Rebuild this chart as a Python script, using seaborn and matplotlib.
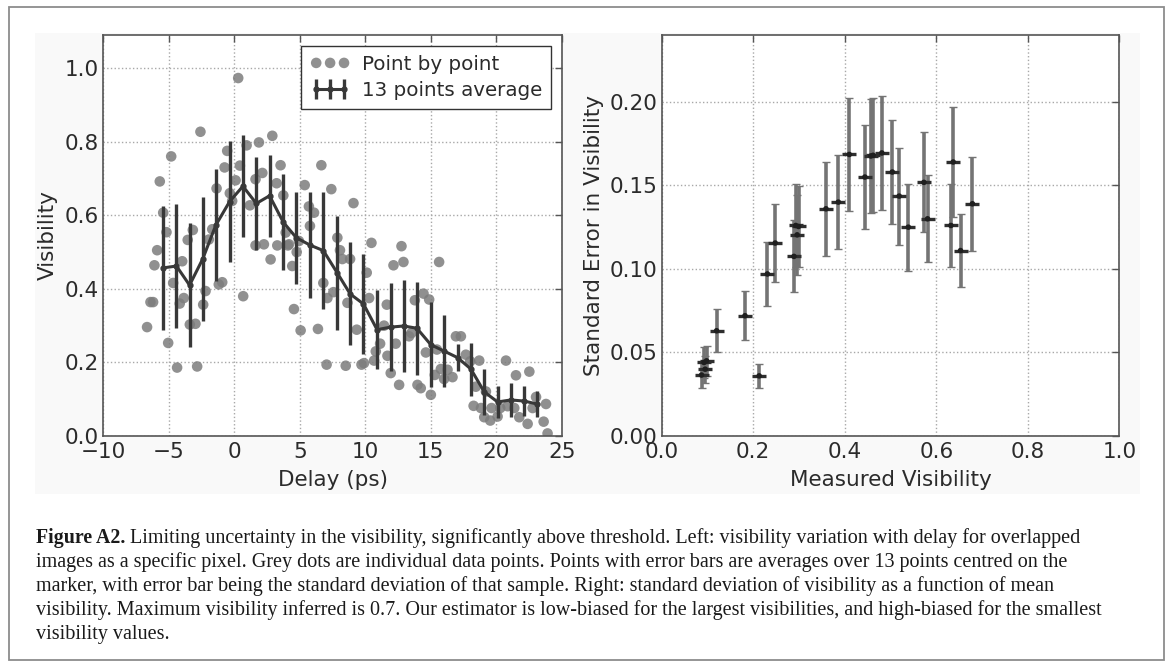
import matplotlib
matplotlib.use("Agg")
import matplotlib.pyplot as plt
from matplotlib.patches import Rectangle
import seaborn as sns

# Individual visibility samples (delay in ps, visibility)
dot_delay = [-6.64, -6.38, -6.18, -6.08, -5.87, -5.67, -5.41, -5.16, -5.03, -4.80,
             -4.65, -4.35, -4.15, -3.96, -3.84, -3.54, -3.38, -3.15, -2.95, -2.82,
             -2.57, -2.36, -2.18, -1.93, -1.67, -1.34, -1.17, -0.91, -0.73, -0.53,
             -0.33, -0.15, 0.11, 0.31, 0.44, 0.69, 0.95, 1.20, 1.63, 1.63,
             1.89, 2.15, 2.27, 2.78, 2.91, 3.24, 3.29, 3.54, 3.75, 3.93,
             4.10, 4.18, 4.43, 4.56, 4.77, 4.94, 5.07, 5.38, 5.70, 5.78,
             6.09, 6.39, 6.65, 6.80, 7.05, 7.11, 7.41, 7.57, 7.87, 8.07,
             8.25, 8.51, 8.64, 8.84, 9.10, 9.35, 9.71, 9.90, 10.11, 10.29,
             10.47, 10.67, 10.80, 11.13, 11.43, 11.64, 11.69, 11.94, 12.15, 12.32,
             12.58, 12.76, 12.91, 13.34, 13.52, 13.78, 13.98, 14.23, 14.44, 14.62,
             14.87, 15.00, 15.30, 15.46, 15.63, 15.76, 16.01, 16.27, 16.65, 16.91,
             17.29, 17.67, 18.00, 18.26, 18.43, 18.69, 18.82, 19.07, 19.20, 19.53,
             19.63, 20.09, 20.29, 20.73, 20.85, 21.36, 21.49, 21.74, 22.38, 22.51,
             22.76, 23.02, 23.60, 23.78, 23.90]
dot_vis = [0.296, 0.364, 0.364, 0.464, 0.505, 0.692, 0.607, 0.554, 0.253, 0.760,
           0.416, 0.186, 0.360, 0.475, 0.375, 0.533, 0.303, 0.560, 0.305, 0.189,
           0.827, 0.357, 0.394, 0.534, 0.562, 0.673, 0.412, 0.418, 0.730, 0.775,
           0.660, 0.639, 0.695, 0.973, 0.735, 0.380, 0.790, 0.627, 0.698, 0.518,
           0.798, 0.715, 0.521, 0.480, 0.816, 0.687, 0.518, 0.736, 0.654, 0.553,
           0.518, 0.521, 0.462, 0.345, 0.500, 0.530, 0.287, 0.682, 0.624, 0.571,
           0.607, 0.291, 0.736, 0.416, 0.194, 0.375, 0.671, 0.391, 0.539, 0.505,
           0.481, 0.191, 0.362, 0.481, 0.633, 0.289, 0.194, 0.198, 0.444, 0.375,
           0.525, 0.205, 0.230, 0.251, 0.300, 0.357, 0.218, 0.171, 0.464, 0.251,
           0.139, 0.516, 0.473, 0.271, 0.280, 0.369, 0.139, 0.130, 0.387, 0.227,
           0.371, 0.112, 0.166, 0.235, 0.473, 0.182, 0.155, 0.180, 0.160, 0.271,
           0.271, 0.221, 0.203, 0.082, 0.134, 0.205, 0.076, 0.051, 0.121, 0.042,
           0.076, 0.053, 0.076, 0.205, 0.081, 0.076, 0.165, 0.051, 0.033, 0.175,
           0.076, 0.106, 0.039, 0.087, 0.007]

# 13-point running averages: centre delay, mean visibility, standard deviation
avg_delay = [-5.40, -4.40, -3.40, -2.40, -1.40, -0.35, 0.67, 1.69, 2.70, 3.75,
             4.74, 5.78, 6.80, 7.85, 8.85, 9.86, 10.90, 11.94, 12.92, 13.93,
             15.00, 16.00, 17.04, 18.05, 19.07, 20.09, 21.10, 22.10, 23.10]
avg_vis = [0.457, 0.462, 0.410, 0.481, 0.573, 0.637, 0.679, 0.632, 0.653, 0.581,
           0.539, 0.519, 0.504, 0.444, 0.386, 0.359, 0.289, 0.296, 0.299, 0.293,
           0.248, 0.231, 0.213, 0.182, 0.120, 0.0925, 0.098, 0.095, 0.087]
avg_std = [0.1676, 0.168, 0.1685, 0.1694, 0.1518, 0.164, 0.139, 0.126, 0.111, 0.130,
           0.125, 0.1436, 0.158, 0.155, 0.140, 0.136, 0.1075, 0.1204, 0.1254, 0.126,
           0.1155, 0.097, 0.036, 0.072, 0.063, 0.044, 0.045, 0.040, 0.0365]
# uncertainty on each standard deviation
std_err = [0.034, 0.034, 0.034, 0.034, 0.030, 0.033, 0.028, 0.025, 0.022, 0.026,
           0.026, 0.029, 0.031, 0.031, 0.028, 0.028, 0.0215, 0.024, 0.024, 0.025,
           0.0235, 0.019, 0.007, 0.0147, 0.0128, 0.009, 0.009, 0.008, 0.0075]

left_xticks = [-10, -5, 0, 5, 10, 15, 20, 25]
left_yticks = [0.0, 0.2, 0.4, 0.6, 0.8, 1.0]
right_xticks = [0.0, 0.2, 0.4, 0.6, 0.8, 1.0]
right_yticks = [0.00, 0.05, 0.10, 0.15, 0.20]

caption_head = "Figure A2."
caption_lines = [
    "Limiting uncertainty in the visibility, significantly above threshold. Left: visibility variation with delay for overlapped",
    "images as a specific pixel. Grey dots are individual data points. Points with error bars are averages over 13 points centred on the",
    "marker, with error bar being the standard deviation of that sample. Right: standard deviation of visibility as a function of mean",
    "visibility. Maximum visibility inferred is 0.7. Our estimator is low-biased for the largest visibilities, and high-biased for the smallest",
    "visibility values.",
]

sns.set_theme(style="white")
plt.rcParams['font.family'] = ['DejaVu Sans']
plt.rcParams['axes.unicode_minus'] = True

W, H = 1168, 661
fig = plt.figure(figsize=(W / 100, H / 100), dpi=100)
fig.patch.set_facecolor('white')


def px_box(left, top, right, bottom):
    return [left / W, 1 - bottom / H, (right - left) / W, (bottom - top) / H]


# outer frame and the light panel behind the two plots
fig.patches.append(Rectangle((9 / W, 1 - 660.3 / H), (1164 - 9) / W, (660.3 - 7) / H,
                             transform=fig.transFigure, facecolor='none',
                             edgecolor='#8c8c8c', lw=1.3, zorder=-2))
fig.patches.append(Rectangle((35 / W, 1 - 494 / H), (1140 - 35) / W, (494 - 33) / H,
                             transform=fig.transFigure, facecolor='#f9f9f9',
                             edgecolor='none', zorder=-1))

ax1 = fig.add_axes(px_box(103, 35, 562, 436))
ax2 = fig.add_axes(px_box(661.7, 35, 1119.3, 436))

TXT = '#2b2b2b'
SP = '#555555'
FS = 15.5

for ax in (ax1, ax2):
    ax.set_facecolor('white')
    for s in ax.spines.values():
        s.set_color(SP)
        s.set_linewidth(1.2)
    ax.tick_params(direction='in', length=5, width=1, colors=SP, labelcolor=TXT,
                   labelsize=FS, top=True, right=True)
    ax.tick_params(axis='x', pad=4.2)
    ax.tick_params(axis='y', pad=3.2)
    ax.grid(True, linestyle=':', color='#a8a8a8', lw=1.0)
    ax.set_axisbelow(True)

# left panel: raw points and running average
sns.scatterplot(x=dot_delay, y=dot_vis, ax=ax1, color='#7d7d7d', s=58,
                edgecolor='none', alpha=0.85, label='Point by point', zorder=2)
ax1.errorbar(avg_delay, avg_vis, yerr=avg_std, fmt='-o', color='#383838',
             ms=3.5, lw=2.2, elinewidth=2.4, capsize=0,
             label='13 points average', zorder=3)
ax1.set_xlim(-10, 25)
ax1.set_ylim(0, 1.09)
ax1.set_xticks(left_xticks)
ax1.set_yticks(left_yticks)
ax1.set_yticklabels([f"{v:.1f}" for v in left_yticks])
ax1.set_xlabel('Delay (ps)', fontsize=FS, color=TXT, labelpad=6)
ax1.set_ylabel('Visibility', fontsize=FS, color=TXT, labelpad=4.4)
leg = ax1.legend(loc='upper right', scatterpoints=3, numpoints=3,
                 scatteryoffsets=[0.5], fontsize=14.3, frameon=True,
                 fancybox=False, edgecolor='#333333', framealpha=1,
                 borderaxespad=0.55, handlelength=2.0, handletextpad=0.6,
                 labelspacing=0.35, borderpad=0.45)
leg.get_frame().set_linewidth(1.0)
for t in leg.get_texts():
    t.set_color(TXT)

# right panel: spread of each average against its mean
ax2.errorbar(avg_vis, avg_std, yerr=std_err, fmt='none', ecolor='#747474',
             elinewidth=2.6, capsize=3.2, capthick=1.0, zorder=2)
ax2.plot(avg_vis, avg_std, linestyle='none', marker='_', ms=10, mew=2.4,
         color='#2e2e2e', zorder=3)
sns.scatterplot(x=avg_vis, y=avg_std, ax=ax2, color='#1f1f1f', s=16,
                edgecolor='none', zorder=4, legend=False)
ax2.set_xlim(0, 1.0)
ax2.set_ylim(0, 0.24)
ax2.set_xticks(right_xticks)
ax2.set_yticks(right_yticks)
ax2.set_xticklabels([f"{v:.1f}" for v in right_xticks])
ax2.set_yticklabels([f"{v:.2f}" for v in right_yticks])
ax2.set_xlabel('Measured Visibility', fontsize=FS, color=TXT, labelpad=6)
ax2.set_ylabel('Standard Error in Visibility', fontsize=FS, color=TXT, labelpad=4)

# caption: bold lead-in followed by the running text
serif = ['Liberation Serif', 'DejaVu Serif']
y0 = 543
step = 24
head = fig.text(36 / W, 1 - y0 / H, caption_head, fontsize=14.3,
                family=serif, weight='bold', color='#1a1a1a', va='baseline')
fig.canvas.draw()
hb = head.get_window_extent()
fig.text((hb.x1 + 4.5) / W, 1 - y0 / H, caption_lines[0], fontsize=14.5,
         family=serif, color='#1a1a1a', va='baseline')
for i, line in enumerate(caption_lines[1:], start=1):
    fig.text(36 / W, 1 - (y0 + i * step) / H, line, fontsize=14.5,
             family=serif, color='#1a1a1a', va='baseline')

fig.savefig('out.png', dpi=100)
